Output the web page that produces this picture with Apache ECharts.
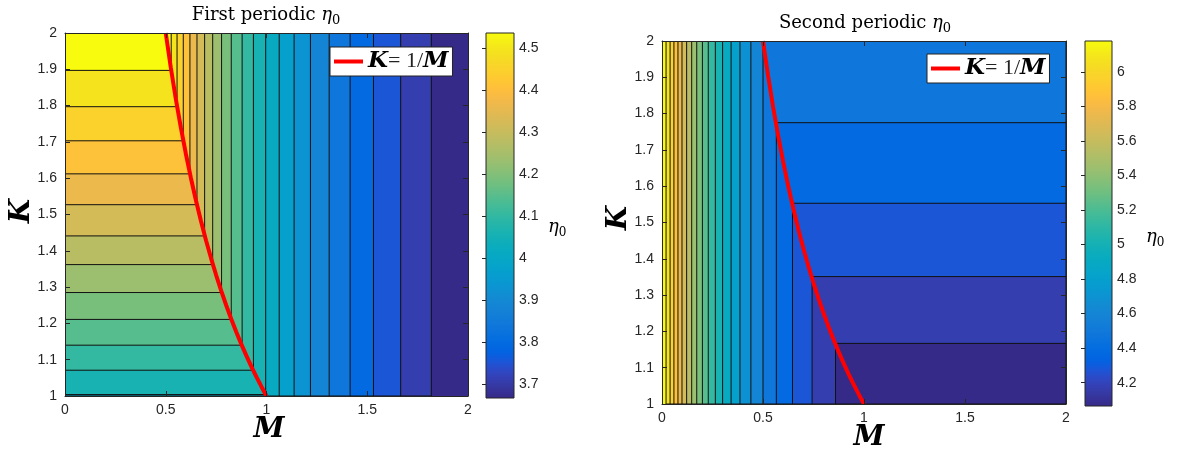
<!DOCTYPE html>
<html><head><meta charset="utf-8">
<script src="https://cdn.jsdelivr.net/npm/echarts@6/dist/echarts.min.js"></script>
<style>html,body{margin:0;padding:0;background:#fff}#c{width:1178px;height:452px}</style>
</head><body><div id="c"></div>
<script>
// ---------- data ----------
const xTicks = [0, 0.5, 1, 1.5, 2];
// Plot 1 (First periodic): contour lines are L-shapes: vertical at M, horizontal at K (null = no horizontal part)
const p1ContourM = [0.527, 0.556, 0.587, 0.620, 0.655, 0.693, 0.733, 0.777, 0.825, 0.879, 0.935, 0.996, 1.063, 1.137, 1.218, 1.311, 1.415, 1.531, 1.666, 1.818];
const p1ContourK = [1.897, 1.797, 1.703, 1.612, 1.527, 1.441, 1.362, 1.285, 1.211, 1.140, 1.071, 1.004, null, null, null, null, null, null, null, null];
const p1BandEta = [4.536, 4.493, 4.449, 4.406, 4.362, 4.319, 4.275, 4.232, 4.188, 4.145, 4.102, 4.058, 4.015, 3.971, 3.928, 3.884, 3.841, 3.797, 3.754, 3.710, 3.667];
// Plot 2 (Second periodic)
const p2ContourM = [0.020, 0.040, 0.059, 0.079, 0.099, 0.122, 0.147, 0.172, 0.200, 0.229, 0.264, 0.300, 0.342, 0.386, 0.440, 0.500, 0.566, 0.646, 0.743, 0.859];
const p2ContourK = [null, null, null, null, null, null, null, null, null, null, null, null, null, null, null, null, 1.775, 1.553, 1.351, 1.167];
const p2BandEta = [6.179, 6.073, 5.967, 5.862, 5.756, 5.650, 5.545, 5.439, 5.333, 5.228, 5.122, 5.016, 4.911, 4.805, 4.699, 4.594, 4.488, 4.382, 4.276, 4.171, 4.065];
// Curve K = 1/M
const curveM = [0.5, 0.525, 0.55, 0.575, 0.6, 0.625, 0.65, 0.675, 0.7, 0.725, 0.75, 0.775, 0.8, 0.825, 0.85, 0.875, 0.9, 0.925, 0.95, 0.975, 1.0];
const curveK = [2, 1.9048, 1.8182, 1.7391, 1.6667, 1.6, 1.5385, 1.4815, 1.4286, 1.3793, 1.3333, 1.2903, 1.25, 1.2121, 1.1765, 1.1429, 1.1111, 1.0811, 1.0526, 1.0256, 1];
// Colorbars
const cb1Range = [3.667, 4.536];
const cb1Ticks = [3.7, 3.8, 3.9, 4, 4.1, 4.2, 4.3, 4.4, 4.5];
const cb2Range = [4.065, 6.179];
const cb2Ticks = [4.2, 4.4, 4.6, 4.8, 5, 5.2, 5.4, 5.6, 5.8, 6];

const parula = ['#352A87','#363093','#3637A0','#353DAD','#3243BA','#2C4AC7','#2053D4','#0F5CDD','#0363E1','#0268E1','#046DE0','#0871DE','#0D75DC','#1079DA','#127DD8','#1481D6','#1485D4','#1389D3','#108ED2','#0C93D2','#0998D1','#079CCF','#06A0CD','#06A4CA','#06A7C6','#07A9C2','#0AACBE','#0FAEB9','#15B1B4','#1DB3AF','#25B5A9','#2EB7A4','#38B99E','#42BB98','#4DBC92','#59BD8C','#65BE86','#71BF80','#7CBF7B','#87BF77','#92BF73','#9CBF6F','#A5BE6B','#AEBE67','#B7BD64','#C0BC60','#C8BC5D','#D1BB59','#D9BA56','#E1B952','#E9B94E','#F1B94A','#F8BB44','#FDBE3D','#FFC337','#FEC832','#FCCE2E','#FAD32A','#F7D826','#F5DE21','#F5E41D','#F5EB18','#F6F313','#F9FB0E'];

// ---------- build band rectangles ----------
const p1Rects = [[0, 2, 1, 2, p1BandEta[p1BandEta.length - 1], 0]];
for (let i = p1ContourM.length - 1; i >= 0; i--) {
  p1Rects.push([0, p1ContourM[i], p1ContourK[i] === null ? 1 : p1ContourK[i], 2, p1BandEta[i], 1]);
}
const p2Rects = [[0, 2, 1, 2, p2BandEta[0], 0]];
for (let i = 0; i < p2ContourM.length; i++) {
  p2Rects.push([p2ContourM[i], 2, 1, p2ContourK[i] === null ? 2 : p2ContourK[i], p2BandEta[i + 1], 1]);
}
const curve = curveM.map((m, i) => [m, curveK[i]]);

// ---------- styles ----------
const AX = '#262626';
const tickFont = {fontFamily: 'Liberation Sans', fontSize: 14, color: AX};
function bandRender(params, api) {
  const p0 = api.coord([api.value(0), api.value(3)]);
  const p1 = api.coord([api.value(1), api.value(2)]);
  const stroked = api.value(5) === 1;
  return {type: 'rect', shape: {x: p0[0], y: p0[1], width: p1[0] - p0[0], height: p1[1] - p0[1]},
    style: {fill: api.visual('color'), stroke: stroked ? '#111' : null, lineWidth: stroked ? 1 : 0}};
}
function cbRender(params, api) {
  const p0 = api.coord([0, api.value(3)]);
  const p1 = api.coord([1, api.value(2)]);
  const stops = parula.map((c, i) => ({offset: 1 - i / (parula.length - 1), color: c}));
  return {type: 'rect', shape: {x: p0[0], y: p0[1], width: p1[0] - p0[0], height: p1[1] - p0[1]},
    style: {fill: {type: 'linear', x: 0, y: 0, x2: 0, y2: 1, colorStops: stops.reverse()}, stroke: AX, lineWidth: 1}};
}
function mainX(grid, top) {
  return {type: 'value', gridIndex: grid, min: 0, max: 2, interval: 0.5, position: top ? 'top' : 'bottom', z: 5,
    axisLine: {onZero: false, lineStyle: {color: AX, width: 1}},
    axisTick: {inside: true, length: 5, lineStyle: {color: AX}},
    axisLabel: top ? {show: false} : Object.assign({margin: 7}, tickFont),
    splitLine: {show: false}};
}
function mainY(grid, right) {
  return {type: 'value', gridIndex: grid, min: 1, max: 2, interval: 0.1, position: right ? 'right' : 'left', z: 5,
    axisLine: {onZero: false, lineStyle: {color: AX, width: 1}},
    axisTick: {inside: true, length: 5, lineStyle: {color: AX}},
    axisLabel: right ? {show: false} : Object.assign({margin: 8}, tickFont),
    splitLine: {show: false}};
}
function cbX(grid) { return {type: 'value', gridIndex: grid, min: 0, max: 1, show: false}; }
function cbY(grid, range, ticks) {
  return {type: 'value', gridIndex: grid, min: range[0], max: range[1], position: 'right', z: 5,
    axisLine: {show: false},
    axisTick: {inside: true, length: 4, lineStyle: {color: AX}, customValues: ticks},
    axisLabel: Object.assign({margin: 5, customValues: ticks}, tickFont),
    splitLine: {show: false}};
}
const scriptFont = {fontFamily: 'DejaVu Serif', fontStyle: 'italic', fontWeight: 'bold', fill: '#000'};
const titleRich = {
  a: {fontFamily: 'DejaVu Serif', fontSize: 18, fill: '#000', lineHeight: 24},
  e: {fontFamily: 'DejaVu Serif', fontStyle: 'italic', fontSize: 18, fill: '#000', lineHeight: 24},
  s: {fontFamily: 'DejaVu Serif', fontSize: 13, fill: '#000', verticalAlign: 'bottom', lineHeight: 15}
};
const etaRich = {
  e: {fontFamily: 'DejaVu Serif', fontStyle: 'italic', fontSize: 18, fill: '#000', lineHeight: 24},
  s: {fontFamily: 'DejaVu Serif', fontSize: 12, fill: '#000', verticalAlign: 'bottom', lineHeight: 15}
};
function legendOpt(left, top) {
  return {left: left, top: top, data: ['K=1/M'], selectedMode: false, icon: 'rect', itemWidth: 29, itemHeight: 4, itemGap: 0,
    backgroundColor: '#fff', borderColor: '#222', borderWidth: 1, borderRadius: 0, padding: [3, 4, 3, 4],
    formatter: () => '{k|K}{e|= 1/}{m|M}',
    textStyle: {rich: {
      k: {fontFamily: 'DejaVu Serif', fontStyle: 'italic', fontWeight: 'bold', fontSize: 23, color: '#000', lineHeight: 28},
      e: {fontFamily: 'Liberation Serif', fontSize: 22, color: '#222', lineHeight: 28},
      m: {fontFamily: 'DejaVu Serif', fontStyle: 'italic', fontWeight: 'bold', fontSize: 23, color: '#000', lineHeight: 28}
    }}};
}

const option = {
  backgroundColor: '#fff',
  animation: false,
  grid: [
    {left: 65, top: 33, width: 403, height: 363},
    {left: 486, top: 33, width: 28, height: 365},
    {left: 662, top: 41, width: 404, height: 363},
    {left: 1085, top: 41, width: 27, height: 365}
  ],
  xAxis: [mainX(0, false), mainX(0, true), cbX(1), mainX(2, false), mainX(2, true), cbX(3)],
  yAxis: [mainY(0, false), mainY(0, true), cbY(1, cb1Range, cb1Ticks), mainY(2, false), mainY(2, true), cbY(3, cb2Range, cb2Ticks)],
  visualMap: [
    {type: 'continuous', show: false, seriesIndex: 0, dimension: 4, min: cb1Range[0], max: cb1Range[1], inRange: {color: parula}},
    {type: 'continuous', show: false, seriesIndex: 3, dimension: 4, min: cb2Range[0], max: cb2Range[1], inRange: {color: parula}}
  ],
  legend: [legendOpt(330, 47), legendOpt(927, 54)],
  series: [
    {type: 'custom', name: 'band1', xAxisIndex: 0, yAxisIndex: 0, data: p1Rects, renderItem: bandRender, clip: true, z: 2, silent: true},
    {type: 'line', name: 'K=1/M', xAxisIndex: 0, yAxisIndex: 0, data: curve, showSymbol: false, symbol: 'none',
      lineStyle: {color: '#ff0000', width: 4}, itemStyle: {color: '#ff0000'}, z: 4, clip: false},
    {type: 'custom', name: 'cb1', xAxisIndex: 2, yAxisIndex: 2, data: [[0, 1, cb1Range[0], cb1Range[1]]], renderItem: cbRender, z: 2, silent: true},
    {type: 'custom', name: 'band2', xAxisIndex: 3, yAxisIndex: 3, data: p2Rects, renderItem: bandRender, clip: true, z: 2, silent: true},
    {type: 'line', name: 'K=1/M', xAxisIndex: 3, yAxisIndex: 3, data: curve, showSymbol: false, symbol: 'none',
      lineStyle: {color: '#ff0000', width: 4}, itemStyle: {color: '#ff0000'}, z: 4, clip: false},
    {type: 'custom', name: 'cb2', xAxisIndex: 5, yAxisIndex: 5, data: [[0, 1, cb2Range[0], cb2Range[1]]], renderItem: cbRender, z: 2, silent: true}
  ],
  graphic: [
    {type: 'text', x: 266, y: 15, style: {text: '{a|First periodic }{e|η}{s|0}', rich: titleRich, align: 'center', verticalAlign: 'middle'}},
    {type: 'text', x: 865, y: 23, style: {text: '{a|Second periodic }{e|η}{s|0}', rich: titleRich, align: 'center', verticalAlign: 'middle'}},
    {type: 'text', x: 269, y: 430, style: Object.assign({text: 'M', fontSize: 28, align: 'center', verticalAlign: 'middle'}, scriptFont)},
    {type: 'text', x: 869, y: 438, style: Object.assign({text: 'M', fontSize: 28, align: 'center', verticalAlign: 'middle'}, scriptFont)},
    {type: 'text', x: 22, y: 211, rotation: Math.PI / 2, style: Object.assign({text: 'K', fontSize: 28, align: 'center', verticalAlign: 'middle'}, scriptFont)},
    {type: 'text', x: 619, y: 218, rotation: Math.PI / 2, style: Object.assign({text: 'K', fontSize: 28, align: 'center', verticalAlign: 'middle'}, scriptFont)},
    {type: 'text', x: 548, y: 227, style: {text: '{e|η}{s|0}', rich: etaRich, align: 'left', verticalAlign: 'middle'}},
    {type: 'text', x: 1146, y: 237, style: {text: '{e|η}{s|0}', rich: etaRich, align: 'left', verticalAlign: 'middle'}}
  ]
};
const chart = echarts.init(document.getElementById('c'), null, {renderer: 'canvas'});
chart.setOption(option);
</script></body></html>
